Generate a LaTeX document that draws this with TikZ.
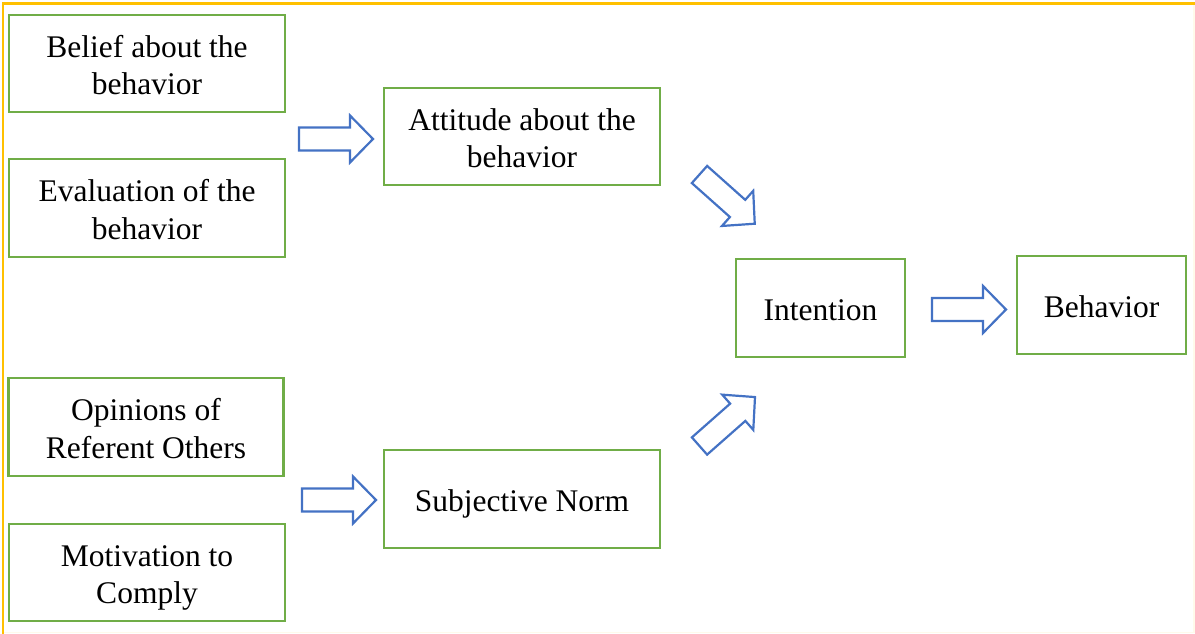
\documentclass[tikz,border=0pt]{standalone}
\usepackage{fontspec}
\setmainfont{Liberation Serif}
\definecolor{boxgreen}{HTML}{70AD47}
\definecolor{arrowblue}{HTML}{4472C4}
\definecolor{frameyellow}{HTML}{FFC000}
% centred block of lines, set slightly low in its box (box size kept)
\newcommand{\boxlines}[1]{\raisebox{-5pt}[\height][\depth]{\begin{tabular}{@{}c@{}}#1\end{tabular}}}
\begin{document}
\begin{tikzpicture}[x=1pt,y=-1pt,
  factor/.style={draw=boxgreen, line width=2.4pt, fill=white,
    inner sep=0pt, font=\fontsize{31.5}{37.5}\selectfont},
  arrowline/.style={draw=arrowblue, line width=2.2pt, fill=white, line join=miter},
  blockarrow/.pic={
    \path[arrowline] (0,-11.5) -- (51,-11.5) -- (51,-23.5) -- (74,0)
      -- (51,23.5) -- (51,11.5) -- (0,11.5) -- cycle;}
]
\useasboundingbox (0,0) rectangle (1195,634);
% outer frame
\draw[frameyellow!8, line width=1.5pt] (1194,3.5) -- (1194,632.5) -- (3,632.5);
\draw[frameyellow, line width=2.5pt] (3.2,634) -- (3.2,3.5) -- (1195,3.5);

% belief and evaluation inputs
\node[factor, minimum width=276pt, minimum height=97pt] (belief) at (147,63.5)
  {\boxlines{Belief about the\\behavior}};
\node[factor, minimum width=276pt, minimum height=98pt] (evaluation) at (147,208)
  {\boxlines{Evaluation of the\\behavior}};
% normative inputs
\node[factor, minimum width=275pt, minimum height=98pt] (opinions) at (146,427)
  {\boxlines{Opinions of\\Referent Others}};
\node[factor, minimum width=276pt, minimum height=97pt] (motivation) at (147,572.5)
  {\boxlines{Motivation to\\Comply}};
% intermediate constructs
\node[factor, minimum width=276pt, minimum height=97pt] (attitude) at (522,136.5)
  {\boxlines{Attitude about the\\behavior}};
\node[factor, minimum width=276pt, minimum height=98pt] (norm) at (522,499)
  {\boxlines{Subjective Norm}};
% outcome chain
\node[factor, minimum width=169pt, minimum height=98pt] (intention) at (820.5,308)
  {\boxlines{Intention}};
\node[factor, minimum width=169pt, minimum height=98pt] (behavior) at (1101.5,305)
  {\boxlines{Behavior}};

% block arrows
\pic (toattitude) at (299,139) {blockarrow};
\pic (tonorm) at (302,500) {blockarrow};
\pic[rotate=-41.7] (attint) at (699.5,174.5) {blockarrow};
\pic[rotate=41.4] (normint) at (699.5,446) {blockarrow};
\pic (tobehavior) at (932,309.5) {blockarrow};
\end{tikzpicture}
\end{document}
